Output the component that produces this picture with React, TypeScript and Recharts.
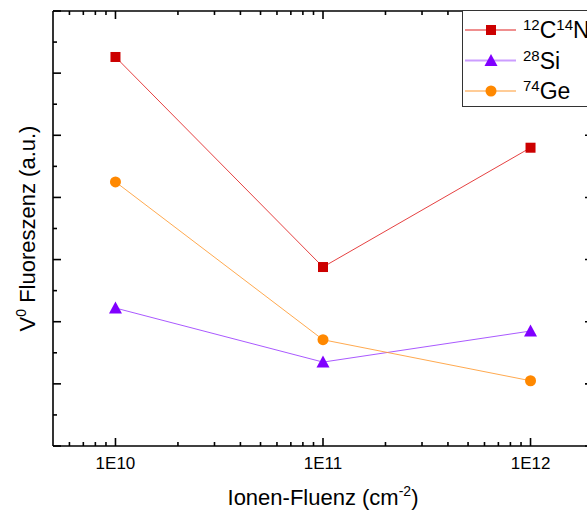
import React from 'react';
import { LineChart, Line, XAxis, YAxis, Legend, Label } from 'recharts';

// values (arbitrary units, axis spans 0..7)
const fluence = [1e10, 1e11, 1e12];
const cnValues = [6.26, 2.88, 4.8];
const siValues = [2.22, 1.35, 1.85];
const geValues = [4.25, 1.71, 1.05];

const majorTicks = [1e10, 1e11, 1e12];
const majorLabels = ['1E10', '1E11', '1E12'];
const minorMultipliers = [2, 3, 4, 5, 6, 7, 8, 9];
const xTicks = [6e9, 7e9, 8e9, 9e9, ...majorTicks.flatMap((d) => [d, ...minorMultipliers.map((m) => m * d)])].filter(
  (t) => t < 2e12
);
const yTicks = [0, 0.5, 1, 1.5, 2, 2.5, 3, 3.5, 4, 4.5, 5, 5.5, 6, 6.5, 7];

const rows = fluence.map((f, i) => ({ fluence: f, cn: cnValues[i], si: siValues[i], ge: geValues[i] }));

const series = [
  { key: 'cn', color: '#cc0000', line: '#e02020', shape: 'square', iso: ['12', '14'], sym: ['C', 'N'] },
  { key: 'si', color: '#8000ff', line: '#9a3cff', shape: 'triangle', iso: ['28'], sym: ['Si'] },
  { key: 'ge', color: '#ff8800', line: '#ff9a30', shape: 'circle', iso: ['74'], sym: ['Ge'] },
];

const FONT = '"Liberation Sans", Arial, sans-serif';
const AXIS_W = 1.6;

const Marker = ({ shape, cx, cy, color }: any) => {
  if (shape === 'square') return <rect x={cx - 5} y={cy - 5} width={10} height={10} fill={color} />;
  if (shape === 'triangle')
    return <polygon points={`${cx},${cy - 6.5} ${cx - 6.5},${cy + 5.5} ${cx + 6.5},${cy + 5.5}`} fill={color} />;
  return <circle cx={cx} cy={cy} r={5.5} fill={color} />;
};

const makeDot = (s: any) => (props: any) => {
  const { cx, cy, index } = props;
  if (cx == null || cy == null) return <g key={`${s.key}-${index}`} />;
  return <Marker key={`${s.key}-${index}`} shape={s.shape} cx={cx} cy={cy} color={s.color} />;
};

const BottomTick = ({ x, y, payload }: any) => {
  const idx = majorTicks.indexOf(payload.value);
  const major = idx >= 0;
  return (
    <g>
      <line x1={x} x2={x} y1={y} y2={y - (major ? 8 : 4)} stroke="#000" strokeWidth={AXIS_W} />
      {major && (
        <text x={x} y={y + 23} textAnchor="middle" fontSize={17} fill="#000">
          {majorLabels[idx]}
        </text>
      )}
    </g>
  );
};

const TopTick = ({ x, y, payload }: any) => {
  const major = majorTicks.includes(payload.value);
  return <line x1={x} x2={x} y1={y} y2={y + (major ? 8 : 4)} stroke="#000" strokeWidth={AXIS_W} />;
};

const LeftTick = ({ x, y, payload }: any) => {
  const major = Number.isInteger(payload.value);
  return <line x1={x} x2={x + (major ? 8 : 4)} y1={y} y2={y} stroke="#000" strokeWidth={AXIS_W} />;
};

const RightTick = ({ x, y, payload }: any) => {
  const major = Number.isInteger(payload.value);
  return <line x1={x} x2={x - (major ? 8 : 4)} y1={y} y2={y} stroke="#000" strokeWidth={AXIS_W} />;
};

const XTitle = ({ viewBox }: any) => {
  const cx = viewBox.x + viewBox.width / 2;
  const y = viewBox.y + 59;
  return (
    <text x={cx} y={y} textAnchor="middle" fontSize={22} fill="#000">
      <tspan>Ionen-Fluenz (cm</tspan>
      <tspan fontSize={14} dy={-9}>-2</tspan>
      <tspan dy={9}>)</tspan>
    </text>
  );
};

const YTitle = ({ viewBox }: any) => {
  const x = viewBox.x + 35;
  const y = viewBox.y + viewBox.height / 2;
  return (
    <text x={x} y={y} textAnchor="middle" fontSize={22} fill="#000" transform={`rotate(-90 ${x} ${y})`}>
      <tspan>V</tspan>
      <tspan fontSize={14} dy={-9}>0</tspan>
      <tspan dy={9}> Fluoreszenz (a.u.)</tspan>
    </text>
  );
};

const LegendBox = ({ payload }: any) => {
  const keys = (payload || []).map((p: any) => p.dataKey);
  const items = series.filter((s) => keys.includes(s.key));
  const rowY = [20, 50.5, 81];
  return (
    <svg width={140} height={97} style={{ display: 'block', fontFamily: FONT }}>
      <rect x={0.5} y={0.5} width={139} height={96} fill="#fff" stroke="#333" strokeWidth={1} />
      {items.map((s: any, i: number) => {
        const cy = rowY[i];
        return (
          <g key={s.key}>
            <line x1={3} x2={54} y1={cy} y2={cy} stroke={s.line} strokeOpacity={0.5} strokeWidth={2} />
            <Marker shape={s.shape} cx={29} cy={cy} color={s.color} />
            <text x={61} y={cy + 8} fontSize={23} fill="#000">
              {s.sym.map((sym: string, j: number) => (
                <React.Fragment key={j}>
                  <tspan fontSize={15} dy={-8}>{s.iso[j]}</tspan>
                  <tspan dy={8}>{sym}</tspan>
                </React.Fragment>
              ))}
            </text>
          </g>
        );
      })}
    </svg>
  );
};

export default function App() {
  return (
    <div
      style={{
        position: 'absolute',
        left: 0,
        top: 0,
        width: 587,
        height: 514,
        overflow: 'hidden',
        background: '#fff',
        fontFamily: FONT,
      }}
    >
      <LineChart width={600} height={514} data={rows} margin={{ top: 0, right: 0, bottom: 0, left: 0 }}>
        <XAxis
          xAxisId="bottom"
          dataKey="fluence"
          type="number"
          scale="log"
          domain={[5e9, 2e12]}
          allowDataOverflow
          ticks={xTicks}
          interval={0}
          height={68}
          tickSize={0}
          tickMargin={0}
          tickLine={false}
          tick={<BottomTick />}
          axisLine={{ stroke: '#000', strokeWidth: AXIS_W }}
        >
          <Label content={<XTitle />} />
        </XAxis>
        <XAxis
          xAxisId="top"
          orientation="top"
          dataKey="fluence"
          type="number"
          scale="log"
          domain={[5e9, 2e12]}
          allowDataOverflow
          ticks={xTicks}
          interval={0}
          height={11}
          tickSize={0}
          tickMargin={0}
          tickLine={false}
          tick={<TopTick />}
          axisLine={{ stroke: '#000', strokeWidth: AXIS_W }}
        />
        <YAxis
          yAxisId="left"
          type="number"
          domain={[0, 7]}
          allowDataOverflow
          ticks={yTicks}
          interval={0}
          width={53}
          tickSize={0}
          tickMargin={0}
          tickLine={false}
          tick={<LeftTick />}
          axisLine={{ stroke: '#000', strokeWidth: AXIS_W }}
        >
          <Label content={<YTitle />} />
        </YAxis>
        <YAxis
          yAxisId="right"
          orientation="right"
          type="number"
          domain={[0, 7]}
          allowDataOverflow
          ticks={yTicks}
          interval={0}
          width={7}
          tickSize={0}
          tickMargin={0}
          tickLine={false}
          tick={<RightTick />}
          axisLine={{ stroke: '#000', strokeWidth: AXIS_W }}
        />
        <Legend
          layout="vertical"
          align="center"
          verticalAlign="middle"
          content={<LegendBox />}
          wrapperStyle={{ left: 462, top: 10, width: 140, height: 97 }}
        />
        {series.map((s) => (
          <Line
            key={s.key}
            xAxisId="bottom"
            yAxisId="left"
            type="linear"
            dataKey={s.key}
            stroke={s.line}
            strokeOpacity={0.85}
            strokeWidth={1}
            dot={makeDot(s)}
            activeDot={false}
            isAnimationActive={false}
          />
        ))}
      </LineChart>
    </div>
  );
}
